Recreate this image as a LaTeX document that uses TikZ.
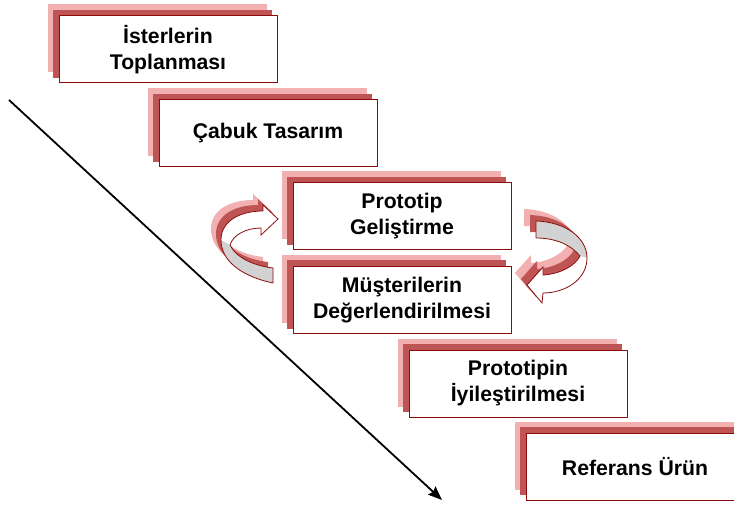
\documentclass[tikz,border=0pt]{standalone}
\usepackage{fontspec}
\setmainfont{Liberation Sans}
\usepackage{xcolor}
\usetikzlibrary{arrows.meta,shadows}
\definecolor{boxborder}{RGB}{140,12,12}
\definecolor{shadowpink}{RGB}{242,176,176}
\definecolor{shadowdark}{RGB}{190,84,84}
\definecolor{bandgrey}{RGB}{210,210,210}

% outlines of the two turning arrows
\newcommand{\leftcycle}{(273,283) .. controls (240,276) and (221,260) .. (221,240) .. controls (221,221) and (240,211) .. (263,211) -- (263,205) -- (278,219) -- (261,235) -- (261,228) .. controls (246,228) and (233,235) .. (230,245) .. controls (236,258) and (255,266) .. (273,268) -- cycle}
\newcommand{\rightcycle}{(536,221) .. controls (566,222) and (587,238) .. (587,258) .. controls (587,279) and (566,293) .. (543,293) -- (542,303) -- (527,285) -- (543,267) -- (543,275) .. controls (560,274) and (575,266) .. (580,256) .. controls (571,245) and (556,238) .. (536,238) -- cycle}

\tikzset{
  stepbox/.style={draw=boxborder, fill=white, line width=1pt,
    minimum width=218pt, minimum height=67pt, align=center,
    font=\fontsize{21.2}{26}\selectfont\bfseries,
    copy shadow={shadow xshift=-11pt, shadow yshift=11pt, fill=shadowpink, draw=shadowpink},
    copy shadow={shadow xshift=-5.5pt, shadow yshift=5.5pt, fill=shadowdark, draw=shadowdark}},
  cyclearrow/.style={draw=boxborder, line width=0.8pt, line join=miter},
  flowarrow/.style={line width=1.8pt, -{Stealth[length=14pt, width=11pt, inset=2pt]}}
}

\begin{document}
\begin{tikzpicture}[x=1pt, y=-1pt]
\useasboundingbox (0,0) rectangle (734,505);

% the long arrow down the steps
\coordinate (flowstart) at (9,100);
\coordinate (flowend) at (442,500);
\draw[flowarrow] (flowstart) -- (flowend);

% steps
\node[stepbox] (gather) at (168,49.5) {İsterlerin\\Toplanması};
\node[stepbox] (design) at (268,133.5) {Çabuk Tasarım};
\node[stepbox] (build) at (402,216.5) {Prototip\\Geliştirme};
\node[stepbox] (review) at (402,300) {Müşterilerin\\Değerlendirilmesi};
\node[stepbox] (refine) at (518,383.5) {Prototipin\\İyileştirilmesi};
\node[stepbox] (product) at (635,466.5) {Referans Ürün};

% turning arrows between build and review
\fill[shadowpink, shift={(-10,-11)}] \leftcycle;
\fill[shadowdark, shift={(-5,-6)}] \leftcycle;
\fill[white] \leftcycle;
\fill[bandgrey] (221,240) .. controls (221,260) and (240,276) .. (273,283) -- (273,268) .. controls (255,266) and (236,258) .. (230,245) -- cycle;
\draw[cyclearrow] \leftcycle;

\fill[shadowpink, shift={(-12,-12)}] \rightcycle;
\fill[shadowdark, shift={(-6,-6)}] \rightcycle;
\fill[white] \rightcycle;
\fill[bandgrey] (536,221) .. controls (566,222) and (587,238) .. (587,258) -- (580,256) .. controls (571,245) and (556,238) .. (536,238) -- cycle;
\draw[cyclearrow] \rightcycle;
\end{tikzpicture}
\end{document}
